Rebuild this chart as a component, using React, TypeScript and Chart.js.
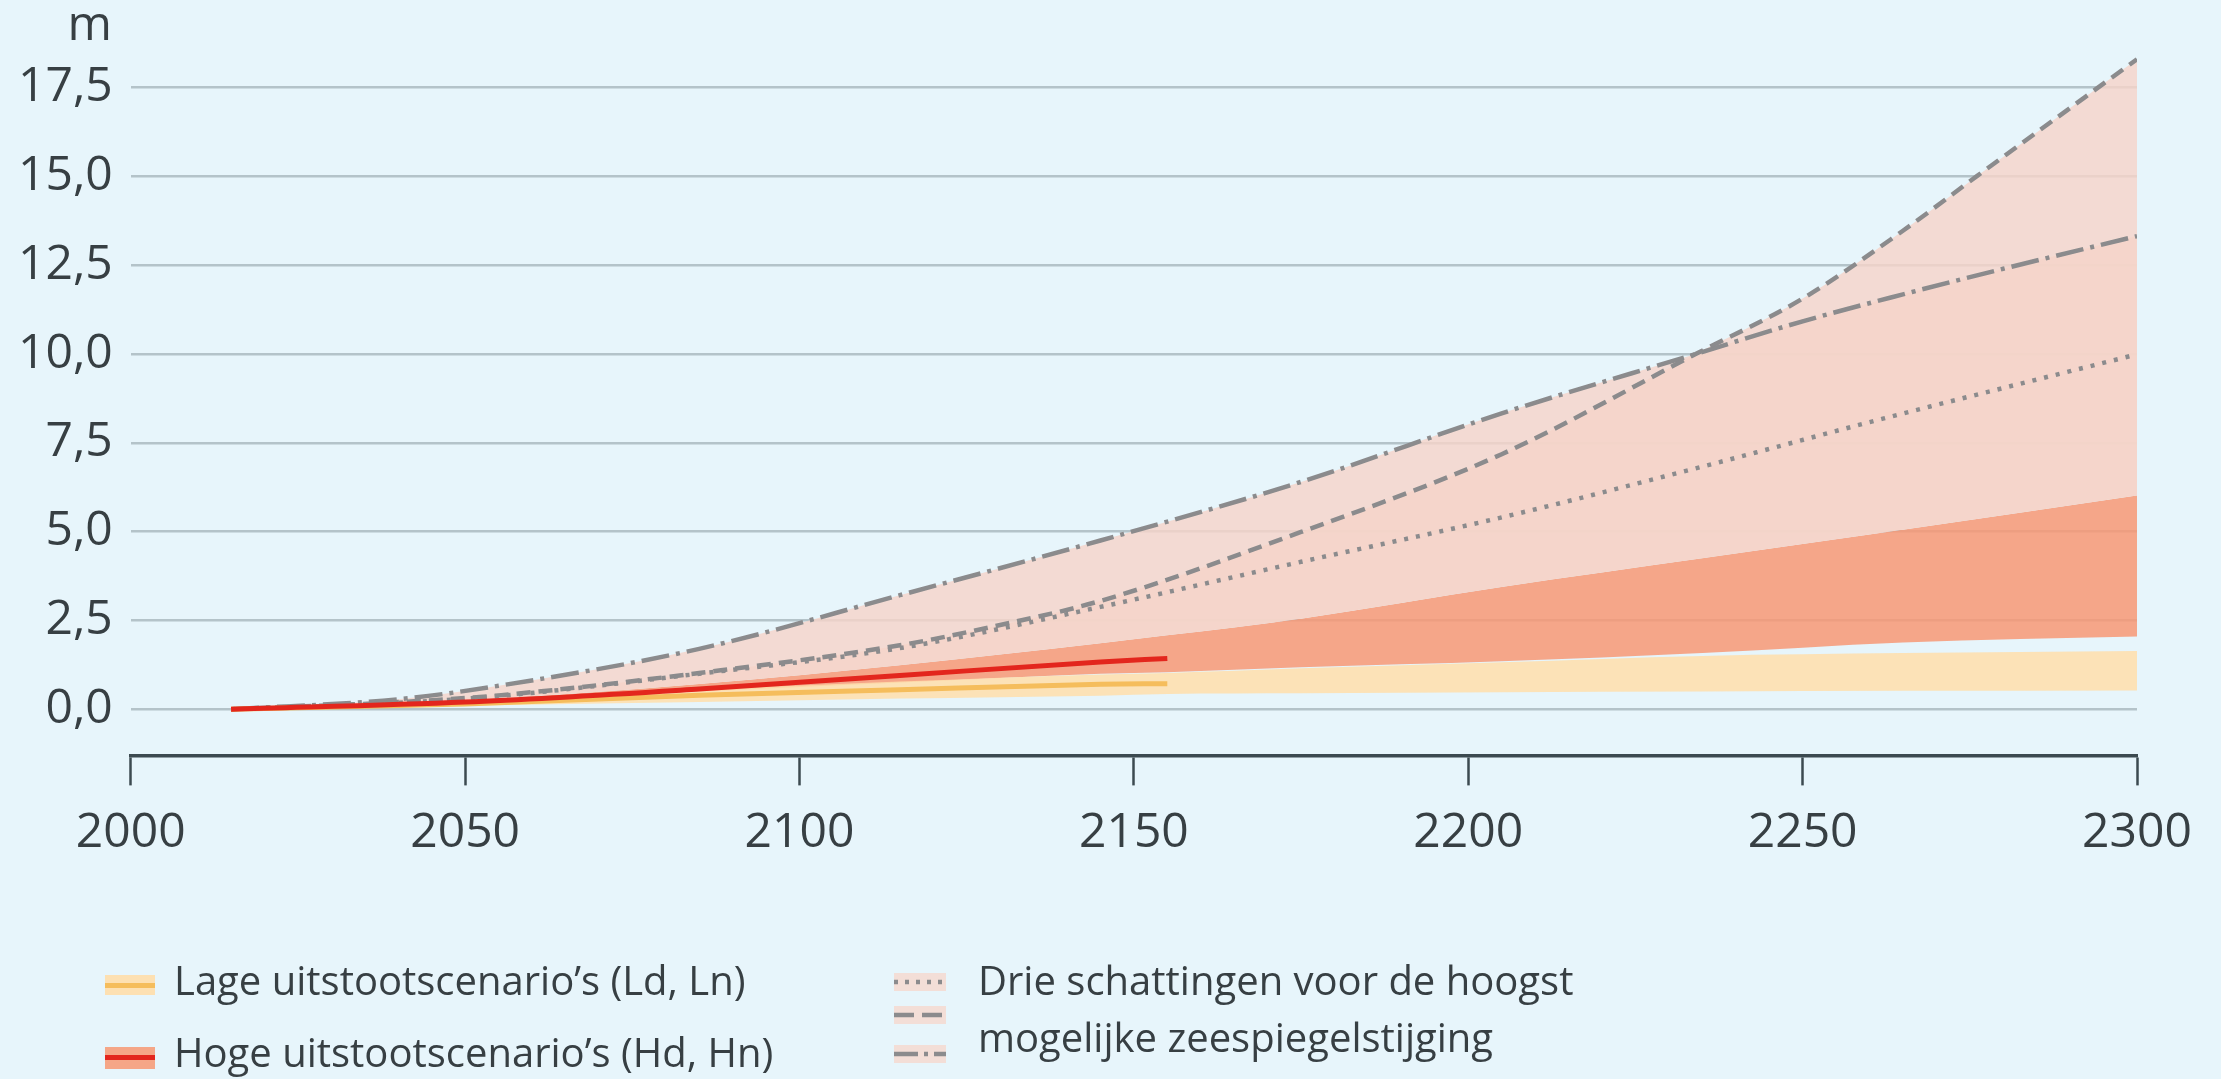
import React, { useEffect, useRef } from 'react';
import { Chart, registerables } from 'chart.js';

Chart.register(...registerables);

// ---- Data ----
const BAND_YEARS = [2015, 2050, 2085, 2115, 2145, 2155, 2175, 2205, 2235, 2265, 2300];
const LOW_BAND_MIN = [0, 0.1, 0.2, 0.3, 0.38, 0.43, 0.45, 0.48, 0.5, 0.52, 0.53];
const LOW_BAND_MAX = [0, 0.25, 0.55, 0.78, 0.98, 1.02, 1.15, 1.32, 1.5, 1.58, 1.64];
const HIGH_BAND_MIN = [0, 0.2, 0.5, 0.75, 1.0, 1.04, 1.18, 1.35, 1.58, 1.88, 2.05];
const HIGH_BAND_MAX = [0, 0.25, 0.71, 1.24, 1.86, 2.08, 2.55, 3.44, 4.25, 5.05, 6.02];

const MEDIAN_YEARS = [2015, 2050, 2085, 2115, 2145, 2155];
const HIGH_MEDIAN = [0, 0.2, 0.57, 0.95, 1.33, 1.43];
const LOW_MEDIAN = [0, 0.15, 0.39, 0.55, 0.7, 0.72];

const DOTTED_YEARS = [2015, 2040, 2055, 2085, 2115, 2145, 2175, 2205, 2235, 2262, 2300];
const DOTTED = [0, 0.18, 0.37, 1.0, 1.72, 2.88, 4.15, 5.4, 6.83, 8.18, 9.99];
const DASHED_YEARS = [2015, 2040, 2055, 2085, 2115, 2130, 2145, 2175, 2205, 2234, 2250, 2265, 2276, 2300];
const DASHED = [0, 0.2, 0.39, 1.02, 1.8, 2.37, 3.05, 4.99, 7.18, 10.0, 11.56, 13.47, 15.0, 18.3];
const DASHDOT_YEARS = [2015, 2040, 2055, 2085, 2115, 2145, 2175, 2205, 2234, 2250, 2265, 2280, 2300];
const DASHDOT = [0, 0.28, 0.66, 1.7, 3.21, 4.75, 6.4, 8.33, 10.0, 10.92, 11.68, 12.4, 13.32];

const Y_TICKS = [0, 2.5, 5, 7.5, 10, 12.5, 15, 17.5];
const X_TICKS = [2000, 2050, 2100, 2150, 2200, 2250, 2300];

const Y_UNIT = 'm';
const LEGEND_LOW = "Lage uitstootscenario\u2019s (Ld, Ln)";
const LEGEND_HIGH = "Hoge uitstootscenario\u2019s (Hd, Hn)";
const LEGEND_EST_1 = 'Drie schattingen voor de hoogst';
const LEGEND_EST_2 = 'mogelijke zeespiegelstijging';

// ---- Styles ----
const BG = '#e7f5fb';
const GRID = '#b4c3c9';
const AXIS = '#3c4a50';
const TEXT = '#373f43';
const PINK = 'rgba(245, 212, 201, 0.82)';
const SALMON = 'rgba(247, 152, 116, 0.85)';
const YELLOW = 'rgba(255, 222, 170, 0.85)';
const RED = '#e3261d';
const YELLOW_LINE = '#f5bd5c';
const GRAY = '#8b8b8d';
const FONT = "'Open Sans', sans-serif";

const pts = (xs: number[], ys: number[]) => xs.map((x, i) => ({ x, y: ys[i] }));

const overlay = {
  id: 'overlay',
  afterDraw(chart: any) {
    const ctx = chart.ctx as CanvasRenderingContext2D;
    ctx.save();
    // unit label
    ctx.fillStyle = TEXT;
    ctx.font = `48px ${FONT}`;
    ctx.textAlign = 'right';
    ctx.textBaseline = 'alphabetic';
    ctx.fillText(Y_UNIT, 112, 40);

    // legend
    ctx.font = `40px ${FONT}`;
    ctx.textAlign = 'left';
    ctx.textBaseline = 'middle';
    // low
    ctx.fillStyle = 'rgb(253, 224, 178)';
    ctx.fillRect(105, 975, 50, 20);
    ctx.fillStyle = YELLOW_LINE;
    ctx.fillRect(105, 983, 50, 5);
    ctx.fillStyle = TEXT;
    ctx.fillText(LEGEND_LOW, 174, 984);
    // high
    ctx.fillStyle = 'rgb(245, 166, 135)';
    ctx.fillRect(105, 1047, 50, 22);
    ctx.fillStyle = RED;
    ctx.fillRect(105, 1055, 50, 5);
    ctx.fillStyle = TEXT;
    ctx.fillText(LEGEND_HIGH, 174, 1056);

    // estimates
    const sym = (y: number, dash: number[]) => {
      ctx.fillStyle = 'rgb(243, 222, 215)';
      ctx.fillRect(894, y - 9, 52, 18);
      ctx.strokeStyle = GRAY;
      ctx.lineWidth = 4.5;
      ctx.setLineDash(dash);
      ctx.beginPath();
      ctx.moveTo(894, y);
      ctx.lineTo(946, y);
      ctx.stroke();
      ctx.setLineDash([]);
    };
    sym(982, [4, 7]);
    sym(1015, [20, 8]);
    sym(1054, [24, 6, 4, 6]);
    ctx.fillStyle = TEXT;
    ctx.fillText(LEGEND_EST_1, 978, 984);
    ctx.fillText(LEGEND_EST_2, 978, 1041);
    ctx.restore();
  },
};

export default function App() {
  const ref = useRef<HTMLCanvasElement | null>(null);

  useEffect(() => {
    if (!ref.current) return;
    const lineBase = { pointRadius: 0, cubicInterpolationMode: 'monotone' as const, tension: 0.3 };
    const chart = new Chart(ref.current, {
      type: 'line',
      data: {
        datasets: [
          { ...lineBase, label: 'Hoog mediaan', data: pts(MEDIAN_YEARS, HIGH_MEDIAN), borderColor: RED, borderWidth: 5, fill: false },
          { ...lineBase, label: 'Laag mediaan', data: pts(MEDIAN_YEARS, LOW_MEDIAN), borderColor: YELLOW_LINE, borderWidth: 5, fill: false },
          { ...lineBase, label: 'Schatting 1', data: pts(DOTTED_YEARS, DOTTED), borderColor: GRAY, borderWidth: 4.5, borderDash: [4, 8], fill: false },
          { ...lineBase, label: 'Schatting 2', data: pts(DASHED_YEARS, DASHED), borderColor: GRAY, borderWidth: 4.5, borderDash: [14, 8], fill: { target: 7, above: PINK, below: 'rgba(0,0,0,0)' } },
          { ...lineBase, label: 'Schatting 3', data: pts(DASHDOT_YEARS, DASHDOT), borderColor: GRAY, borderWidth: 4.5, borderDash: [28, 7, 4, 7], fill: { target: 7, above: PINK, below: 'rgba(0,0,0,0)' } },
          { ...lineBase, label: 'Laag max', data: pts(BAND_YEARS, LOW_BAND_MAX), borderWidth: 0, borderColor: 'rgba(0,0,0,0)', backgroundColor: YELLOW, fill: { target: 6, above: YELLOW, below: YELLOW } },
          { ...lineBase, label: 'Laag min', data: pts(BAND_YEARS, LOW_BAND_MIN), borderWidth: 0, borderColor: 'rgba(0,0,0,0)', fill: false },
          { ...lineBase, label: 'Hoog max', data: pts(BAND_YEARS, HIGH_BAND_MAX), borderWidth: 0, borderColor: 'rgba(0,0,0,0)', backgroundColor: SALMON, fill: { target: 8, above: SALMON, below: SALMON } },
          { ...lineBase, label: 'Hoog min', data: pts(BAND_YEARS, HIGH_BAND_MIN), borderWidth: 0, borderColor: 'rgba(0,0,0,0)', fill: false },
        ],
      },
      options: {
        animation: false,
        responsive: false,
        events: [],
        layout: { padding: { left: 0, right: 84, top: 56, bottom: 198 } },
        plugins: {
          legend: { display: false },
          tooltip: { enabled: false },
          filler: { propagate: false, drawTime: 'beforeDatasetsDraw' },
        } as any,
        scales: {
          x: {
            type: 'linear',
            min: 2000,
            max: 2300,
            afterBuildTicks: (s: any) => { s.ticks = X_TICKS.map((v) => ({ value: v })); },
            ticks: { callback: (v: any) => String(v), color: TEXT, font: { family: FONT, size: 48 }, padding: 19, maxRotation: 0 },
            grid: { display: true, drawOnChartArea: false, drawTicks: true, tickLength: 30, tickColor: AXIS, tickWidth: 2.5 },
            border: { display: true, color: AXIS, width: 3.5 },
          },
          y: {
            type: 'linear',
            min: -1.3,
            max: 18.39,
            afterBuildTicks: (s: any) => { s.ticks = Y_TICKS.map((v) => ({ value: v })); },
            ticks: { callback: (v: any) => Number(v).toFixed(1).replace('.', ','), color: TEXT, font: { family: FONT, size: 48 }, padding: 18 },
            grid: { color: GRID, lineWidth: 2.5, drawTicks: false },
            border: { display: false },
          },
        },
      },
      plugins: [overlay],
    });
    return () => chart.destroy();
  }, []);

  return (
    <div style={{ position: 'fixed', left: 0, top: 0, width: 2221, height: 1079, background: BG }}>
      <canvas ref={ref} width={2221} height={1079} style={{ display: 'block' }} />
    </div>
  );
}
